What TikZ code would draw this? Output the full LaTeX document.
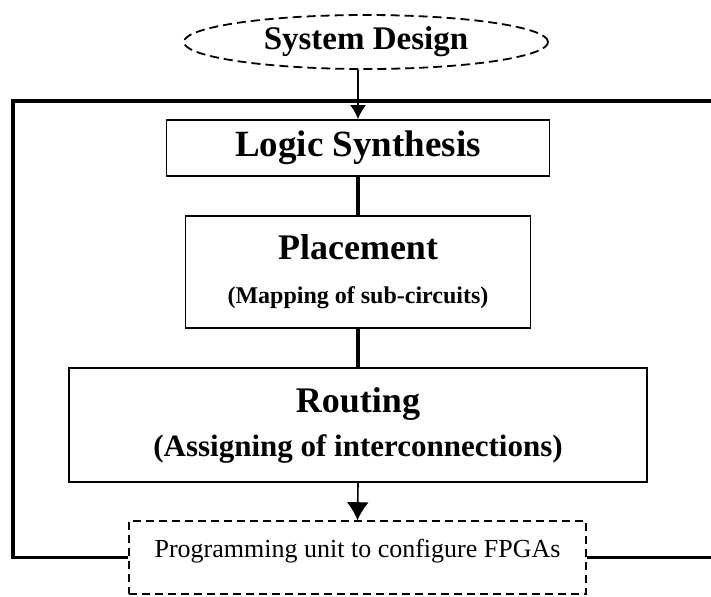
\documentclass[tikz,border=0pt]{standalone}
\usepackage{fontspec}
\setmainfont{Liberation Serif}
\usepackage{tikz}
\usetikzlibrary{shapes,arrows.meta,positioning}

\begin{document}
\begin{tikzpicture}[x=0.5pt,y=-0.5pt]
\tikzstyle{stage}=[rectangle, draw, line width=0.9pt, align=center, inner sep=0pt]
\tikzstyle{start}=[ellipse, draw, dash pattern=on 4.5pt off 2.5pt, line width=0.9pt, inner sep=0pt, font=\fontsize{16.5}{20}\selectfont\bfseries]
\tikzstyle{unit}=[rectangle, draw, dash pattern=on 4pt off 2.5pt, line width=0.8pt, inner sep=0pt, font=\fontsize{13}{16}\selectfont]
\tikzstyle{flow}=[line width=0.8pt, -{Latex[length=7pt,width=8pt]}]
\tikzstyle{bigflow}=[line width=0.8pt, -{Latex[length=9pt,width=11pt]}]
\tikzstyle{link}=[line width=2.3pt]
\tikzstyle{frame}=[line width=1.6pt]

\useasboundingbox (0,0) rectangle (711,596);

\node[start, minimum width=182pt, minimum height=27pt] (sys) at (366,42) {System Design};
\node[stage, minimum width=191.5pt, minimum height=28pt, font=\fontsize{18.5}{22}\selectfont\bfseries] (logic) at (358,148) {Logic Synthesis};
\node[stage, minimum width=172.5pt, minimum height=56pt, font=\fontsize{12}{22}\selectfont\bfseries] (place) at (358,272) {{\fontsize{18}{22}\selectfont Placement}\\(Mapping of sub-circuits)};
\node[stage, minimum width=289pt, minimum height=57pt, font=\fontsize{15.5}{22}\selectfont\bfseries] (route) at (358,425) {{\fontsize{18}{22}\selectfont Routing}\\(Assigning of interconnections)};
\node[unit, minimum width=228.5pt, minimum height=36.5pt, text height=9pt, text depth=9pt] (prog) at (357.5,557.5) {Programming unit to configure FPGAs};

\draw[frame] (prog.west) -- (prog.west -| 13,0) -- (13,101) -- (711,101);
\draw[frame] (prog.east) -- (prog.east -| 711,0);

\draw[flow] (logic.north |- sys.south) -- (logic.north);
\draw[link] (logic) -- (place);
\draw[link] (place) -- (route);
\draw[bigflow] (route.south) -- (prog.north);
\end{tikzpicture}
\end{document}
